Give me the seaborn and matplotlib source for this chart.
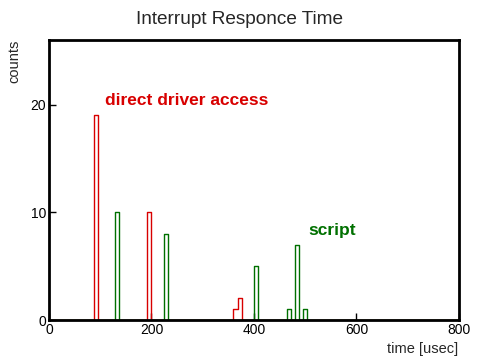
import numpy as np
import pandas as pd
import matplotlib
matplotlib.use("Agg")
import matplotlib.pyplot as plt
import seaborn as sns

# Bin centres (usec) and counts for each series
direct_time = [92, 196, 364, 372]
direct_counts = [19, 10, 1, 2]
script_time = [132, 228, 404, 468, 484, 500]
script_counts = [10, 8, 5, 1, 7, 1]
bin_width = 8
x_max = 800
y_max = 26
x_ticks = [0, 200, 400, 600, 800]
y_ticks = [0, 10, 20]

sns.set_theme(style="white")
plt.rcParams['font.family'] = ['Liberation Sans', 'DejaVu Sans']

df_direct = pd.DataFrame({"time": direct_time, "counts": direct_counts})
df_script = pd.DataFrame({"time": script_time, "counts": script_counts})

fig = plt.figure(figsize=(4.8, 3.6), dpi=100)
ax = fig.add_axes([0.102, 0.111, 0.854, 0.778])

red = "#d80000"
green = "#007000"
sns.histplot(data=df_direct, x="time", weights="counts",
             binwidth=bin_width, binrange=(0, x_max), element="step", fill=False,
             color=red, linewidth=1.0, ax=ax)
sns.histplot(data=df_script, x="time", weights="counts",
             binwidth=bin_width, binrange=(0, x_max), element="step", fill=False,
             color=green, linewidth=1.0, ax=ax)

ax.set_xlim(0, x_max)
ax.set_ylim(0, y_max)
ax.set_xticks(x_ticks)
ax.set_yticks(y_ticks)
ax.set_xlabel("")
ax.set_ylabel("")
for s in ax.spines.values():
    s.set_color("black")
    s.set_linewidth(2)
ax.tick_params(direction="in", length=5, width=1, colors="black", labelsize=10, pad=2,
               bottom=True, left=True)

ax.text(110, 20.4, "direct driver access", color=red, fontsize=12.5, fontweight="bold",
        va="center", ha="left")
ax.text(507, 8.3, "script", color=green, fontsize=12.5, fontweight="bold",
        va="center", ha="left")

fig.text(0.5, 0.945, "Interrupt Responce Time", ha="center", va="center", fontsize=13.7)
fig.text(0.03, 0.83, "counts", rotation=90, ha="center", va="center", fontsize=10.5)
fig.text(0.955, 0.03, "time [usec]", ha="right", va="center", fontsize=10.5)

fig.savefig("out.png", dpi=100)
